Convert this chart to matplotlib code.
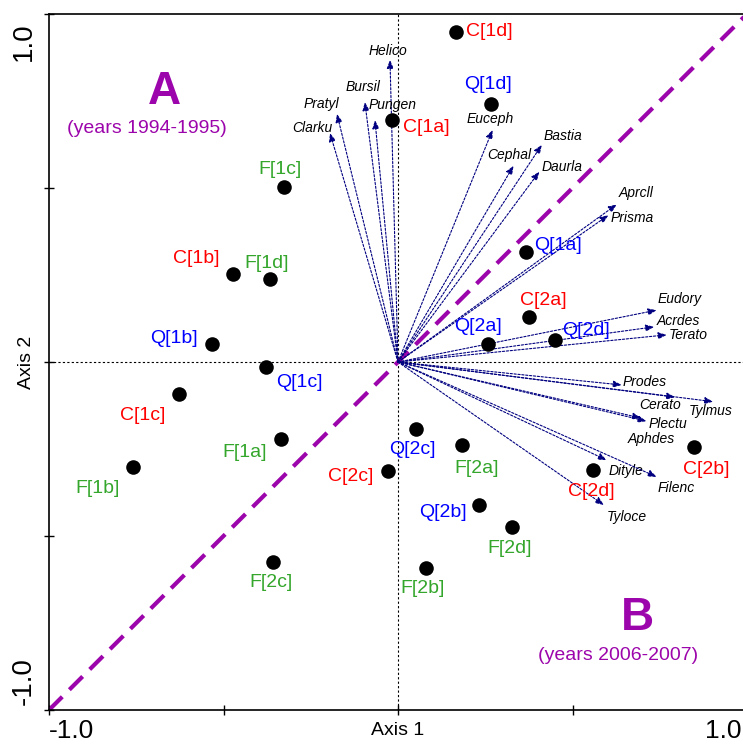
import matplotlib
matplotlib.use("Agg")
import matplotlib.pyplot as plt

plt.rcParams["font.family"] = ["Liberation Sans", "DejaVu Sans"]

# site scores (sample codes)
sites = ["C[1d]", "Q[1d]", "C[1a]", "F[1c]", "Q[1a]", "C[2a]", "Q[2a]", "Q[2d]",
         "C[1b]", "F[1d]", "Q[1b]", "Q[1c]", "C[1c]", "F[1a]", "F[1b]", "C[2c]",
         "Q[2c]", "F[2a]", "Q[2b]", "F[2d]", "F[2c]", "F[2b]", "C[2b]", "C[2d]"]
site_x = [0.165, 0.266, -0.017, -0.327, 0.367, 0.375, 0.259, 0.449,
          -0.472, -0.366, -0.534, -0.379, -0.627, -0.335, -0.758, -0.030,
          0.051, 0.182, 0.233, 0.326, -0.357, 0.079, 0.849, 0.560]
site_y = [0.949, 0.740, 0.695, 0.504, 0.315, 0.128, 0.051, 0.063,
          0.252, 0.238, 0.051, -0.015, -0.093, -0.221, -0.303, -0.312,
          -0.193, -0.239, -0.411, -0.475, -0.576, -0.591, -0.243, -0.310]

# species vectors
species = ["Helico", "Bursil", "Pungen", "Pratyl", "Clarku", "Euceph", "Cephal",
           "Bastia", "Daurla", "Aprcll", "Prisma", "Eudory", "Acrdes", "Terato",
           "Prodes", "Cerato", "Tylmus", "Plectu", "Aphdes", "Dityle", "Filenc", "Tyloce"]
sp_x = [-0.023, -0.095, -0.066, -0.175, -0.195, 0.271, 0.331,
        0.412, 0.405, 0.627, 0.603, 0.741, 0.734, 0.770,
        0.641, 0.794, 0.903, 0.712, 0.696, 0.598, 0.741, 0.590]
sp_y = [0.868, 0.747, 0.695, 0.713, 0.658, 0.667, 0.564,
        0.624, 0.547, 0.453, 0.422, 0.149, 0.101, 0.078,
        -0.066, -0.101, -0.114, -0.170, -0.161, -0.282, -0.330, -0.411]

# label offsets in pixels (layout only)
site_off = [(34, 0), (-3, 20), (34, -7), (-4, 17), (32, 7), (14, 17), (-10, 18), (31, 10),
            (-37, 16), (-4, 16), (-38, 6), (34, -15), (-36, -21), (-36, -14), (-36, -21), (-37, -6),
            (-3, -20), (15, -23), (-36, -7), (-2, -21), (-2, -20), (-3, -21), (12, -23), (-2, -22)]
sp_off = [(-2, 9), (-2, 15), (18, 15), (-16, 10), (-18, 5), (-2, 11), (-4, 11),
          (21, 9), (23, 5), (19, 11), (24, -3), (23, 11), (24, 6), (22, 0),
          (23, 3), (-15, -8), (-2, -9), (21, -3), (10, -21), (19, -11), (20, -11), (23, -12)]

colors = {"C": "#ff0000", "Q": "#0000ff", "F": "#33a62b"}
purple = "#9c05ab"
navy = "#000080"

fig = plt.figure(figsize=(7.43, 7.45), dpi=100)
ax = fig.add_axes([49 / 743, 35 / 745, 698 / 743, 696 / 745])
ax.set_xlim(-1, 1)
ax.set_ylim(-1, 1)

ax.axhline(0, color="black", lw=0.8, ls=(0, (2, 2)), zorder=1)
ax.axvline(0, color="black", lw=0.8, ls=(0, (2, 2)), zorder=1)
ax.plot([-1, 1], [-1, 1], color=purple, lw=3, ls=(0, (4.5, 2.4)), zorder=2)

for name, x, y, off in zip(species, sp_x, sp_y, sp_off):
    ax.annotate("", xy=(x, y), xytext=(0, 0),
                arrowprops=dict(arrowstyle="-|>,head_length=0.5,head_width=0.2",
                                color=navy, lw=0.8, ls=(0, (2, 1.5)),
                                shrinkA=0, shrinkB=0), zorder=3)
    ax.annotate(name, xy=(x, y), xytext=off, textcoords="offset pixels",
                ha="center", va="center", fontsize=10, style="italic", color="black")

ax.scatter(site_x, site_y, s=110, color="black", zorder=4, linewidths=0)
for name, x, y, off in zip(sites, site_x, site_y, site_off):
    ax.annotate(name, xy=(x, y), xytext=off, textcoords="offset pixels",
                ha="center", va="center", fontsize=14, color=colors[name[0]])

ax.text(-0.67, 0.775, "A", color=purple, fontsize=33, fontweight="bold", ha="center", va="center")
ax.text(-0.72, 0.672, "(years 1994-1995)", color=purple, fontsize=14, ha="center", va="center")
ax.text(0.685, -0.737, "B", color=purple, fontsize=33, fontweight="bold", ha="center", va="center")
ax.text(0.63, -0.843, "(years 2006-2007)", color=purple, fontsize=14, ha="center", va="center")

ax.set_xticks([-1, -0.5, 0, 0.5, 1])
ax.set_yticks([-1, -0.5, 0, 0.5, 1])
ax.set_xticklabels([])
ax.set_yticklabels([])
ax.tick_params(direction="inout", length=7, width=1)
for s in ax.spines.values():
    s.set_linewidth(1.2)

# tick labels placed by hand (mixed sizes in the original)
ax.text(-1, -1.026, "-1.0", fontsize=19, ha="left", va="top")
ax.text(0.985, -1.026, "1.0", fontsize=19, ha="right", va="top")
ax.text(0, -1.035, "Axis 1", fontsize=14, ha="center", va="top")
ax.text(-1.035, 0.975, "1.0", fontsize=20, rotation=90, ha="right", va="top")
ax.text(-1.035, -0.985, "-1.0", fontsize=20, rotation=90, ha="right", va="bottom")
ax.text(-1.04, 0, "Axis 2", fontsize=14, rotation=90, ha="right", va="center")

fig.savefig("out.png", dpi=100)
